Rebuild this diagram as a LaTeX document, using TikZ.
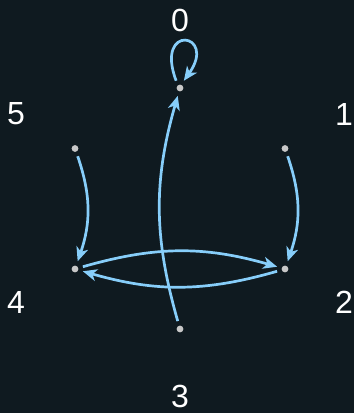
\documentclass[tikz,border=0pt]{standalone}
\usepackage{fontspec}
\setmainfont{Liberation Sans}
\usetikzlibrary{arrows.meta}
\definecolor{bgc}{HTML}{0F1A20}
\definecolor{edgec}{HTML}{87CEFA}
\definecolor{dotc}{HTML}{C8C8C8}
\begin{document}
\begin{tikzpicture}[x=1pt,y=-1pt,
  vtx/.style={circle,inner sep=0pt,minimum size=16pt},
  lbl/.style={text=white,inner sep=0pt,font=\fontsize{32}{32}\selectfont},
  edg/.style={draw=edgec,line width=2.7pt,-{Stealth[length=14pt,width=12pt,inset=4pt]}}]
\fill[bgc] (0,0) rectangle (354,413);
\useasboundingbox (0,0) rectangle (354,413);
% vertices
\node[vtx] (n0) at (180,88) {};
\node[vtx] (n1) at (285,148.5) {};
\node[vtx] (n2) at (285,269) {};
\node[vtx] (n3) at (180,329) {};
\node[vtx] (n4) at (75,269) {};
\node[vtx] (n5) at (75,148.5) {};
\foreach \n in {n0,n1,n2,n3,n4,n5} \fill[dotc] (\n) circle (3.4pt);
% labels
\node[lbl] (l0) at (180,20.5) {0};
\node[lbl] (l1) at (344,114) {1};
\node[lbl] (l2) at (344,302.5) {2};
\node[lbl] (l3) at (180,396) {3};
\node[lbl] (l4) at (16,302.5) {4};
\node[lbl] (l5) at (16,114) {5};
% edges
\draw[edg] (n0.118) .. controls +(-22,-58) and +(34,-48) .. (n0.62);
\draw[edg] (n3) to[bend left=16] (n0);
\draw[edg] (n5) to[bend left=19] (n4);
\draw[edg] (n1) to[bend left=19] (n2);
\draw[edg] (n4) to[bend left=16] (n2);
\draw[edg] (n2) to[bend left=16] (n4);
\end{tikzpicture}
\end{document}
